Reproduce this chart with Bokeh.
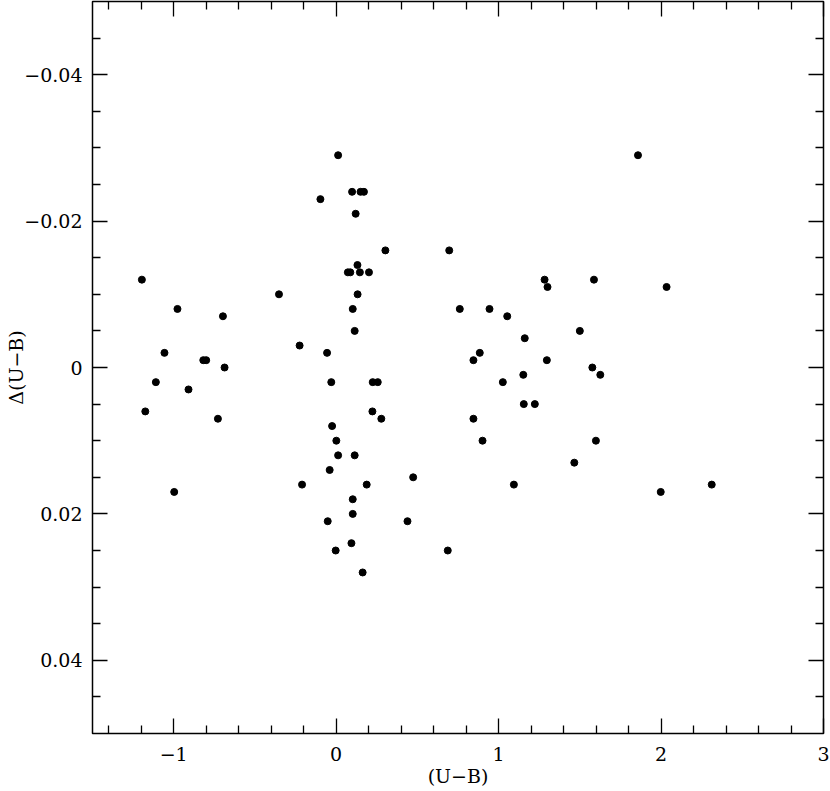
from bokeh.plotting import figure
from bokeh.models import Range1d, LinearAxis, FixedTicker, CustomJSTickFormatter, ColumnDataSource
from bokeh.embed import file_html
from bokeh.resources import INLINE

# (U-B) colour index and Delta(U-B) residual
ub = [
    -1.196, -1.175, -1.11, -1.057, -0.997, -0.977, -0.909, -0.818, -0.800,
    -0.728, -0.697, -0.687, -0.352, -0.225, -0.210,
    0.012, 0.098, 0.150, 0.171, -0.097, 0.120, 0.303, 0.131,
    0.072, 0.087, 0.146, 0.202, 0.132, 0.102, 0.114,
    -0.056, -0.030, 0.225, 0.256, 0.223, 0.278, -0.025, 0.001, 0.012, 0.114,
    -0.040, 0.188, 0.102, 0.102, -0.052, 0.439, 0.094, -0.003, 0.163,
    0.474, 0.687,
    0.696, 1.283, 1.301, 1.587, 0.761, 0.944, 1.053, 1.500, 1.161, 0.884,
    0.845, 1.297, 1.577, 1.626, 1.152, 1.026, 1.155, 1.223, 0.845, 0.901,
    1.599, 1.466, 1.094, 1.858, 2.034, 2.312, 1.998,
]
dub = [
    -0.012, 0.006, 0.002, -0.002, 0.017, -0.008, 0.003, -0.001, -0.001,
    0.007, -0.007, 0.000, -0.010, -0.003, 0.016,
    -0.029, -0.024, -0.024, -0.024, -0.023, -0.021, -0.016, -0.014,
    -0.013, -0.013, -0.013, -0.013, -0.010, -0.008, -0.005,
    -0.002, 0.002, 0.002, 0.002, 0.006, 0.007, 0.008, 0.010, 0.012, 0.012,
    0.014, 0.016, 0.018, 0.020, 0.021, 0.021, 0.024, 0.025, 0.028,
    0.015, 0.025,
    -0.016, -0.012, -0.011, -0.012, -0.008, -0.008, -0.007, -0.005, -0.004, -0.002,
    -0.001, -0.001, 0.000, 0.001, 0.001, 0.002, 0.005, 0.005, 0.007, 0.010,
    0.010, 0.013, 0.016, -0.029, -0.011, 0.016, 0.017,
]

x_major = [-1, 0, 1, 2, 3]
x_minor = [-1.4, -1.2, -0.8, -0.6, -0.4, -0.2, 0.2, 0.4, 0.6, 0.8, 1.2, 1.4, 1.6, 1.8,
           2.2, 2.4, 2.6, 2.8]
y_major = [-0.04, -0.02, 0.0, 0.02, 0.04]
y_minor = [-0.045, -0.035, -0.03, -0.025, -0.015, -0.01, -0.005, 0.005, 0.01, 0.015,
           0.025, 0.03, 0.035, 0.045]

FONT = "DejaVu Serif"

p = figure(
    width=830, height=791,
    x_range=Range1d(-1.5, 3.0), y_range=Range1d(0.05, -0.05),
    output_backend="svg", toolbar_location=None,
    min_border_left=92, min_border_top=1, min_border_right=7, min_border_bottom=58,
    background_fill_color="white", border_fill_color="white",
    outline_line_color="black", outline_line_width=1.5,
)
p.xgrid.visible = False
p.ygrid.visible = False

src = ColumnDataSource(dict(x=ub, y=dub))
p.scatter("x", "y", source=src, size=7, marker="circle", color="black")

x_fmt = CustomJSTickFormatter(code="return tick < 0 ? '\\u2212' + Math.abs(tick).toFixed(0) : tick.toFixed(0);")
y_fmt = CustomJSTickFormatter(code="if (Math.abs(tick) < 1e-9) return '0'; return tick < 0 ? '\\u2212' + Math.abs(tick).toFixed(2) : tick.toFixed(2);")
blank_fmt = CustomJSTickFormatter(code="return '';")

p.add_layout(LinearAxis(), "above")
p.add_layout(LinearAxis(), "right")

for ax in p.xaxis:
    ax.ticker = FixedTicker(ticks=x_major, minor_ticks=x_minor)
    ax.formatter = x_fmt
for ax in p.yaxis:
    ax.ticker = FixedTicker(ticks=y_major, minor_ticks=y_minor)
    ax.formatter = y_fmt

for ax in p.xaxis + p.yaxis:
    ax.axis_line_color = None
    ax.major_tick_in = 15
    ax.major_tick_out = 0
    ax.minor_tick_in = 8
    ax.minor_tick_out = 0
    ax.major_tick_line_color = "black"
    ax.minor_tick_line_color = "black"
    ax.major_tick_line_width = 1.3
    ax.minor_tick_line_width = 1.3
    ax.major_label_text_font = FONT
    ax.major_label_text_font_size = "19px"
    ax.major_label_text_color = "black"
    ax.axis_label_text_font = FONT
    ax.axis_label_text_font_size = "19px"
    ax.axis_label_text_font_style = "normal"
    ax.axis_label_text_color = "black"

bottom = p.below[0]
bottom.axis_label = "(U\u2212B)"
bottom.major_label_standoff = 13
bottom.axis_label_standoff = 1

left = p.left[0]
left.axis_label = "\u0394(U\u2212B)"
left.major_label_standoff = 10
left.axis_label_standoff = -6

for ax in (p.above[0], p.right[0]):
    ax.formatter = blank_fmt
    ax.major_label_standoff = 0
    ax.axis_label = None

open("out.html", "w").write(file_html(p, INLINE))
